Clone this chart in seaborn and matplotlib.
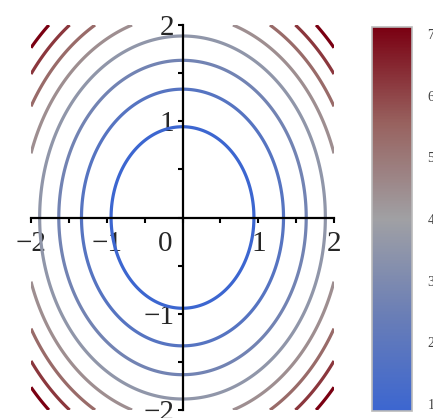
import numpy as np
import seaborn as sns
import matplotlib.pyplot as plt
import matplotlib.transforms as mtransforms
from matplotlib.colors import LinearSegmentedColormap, Normalize
from matplotlib.cm import ScalarMappable

# contour levels (8 levels between min 0 and max 8)
levels = [0.889, 1.778, 2.667, 3.556, 4.444, 5.333, 6.222, 7.111]
x_ticks = [-2, -1, 0, 1, 2]
x_labels = ["\u22122", "\u22121", "0", "1", "2"]
y_ticks = [-2, -1, 0, 1, 2]
y_labels = ["\u22122", "\u22121", "", "1", "2"]
cbar_ticks = [1, 2, 3, 4, 5, 6, 7]
cmap_colors = ["#3c66d0", "#6a7eb6", "#a0a0a4", "#98625f", "#7a0012"]

sns.set_style("white")
plt.rcParams["font.family"] = ["Liberation Serif", "DejaVu Serif"]

# surface z = x^2 + y^2 on [-2, 2] x [-2, 2]
xs = np.linspace(-2, 2, 401)
ys = np.linspace(-2, 2, 401)
X, Y = np.meshgrid(xs, ys)
Z = X**2 + Y**2

cmap = LinearSegmentedColormap.from_list("maple_cw", cmap_colors)
norm = Normalize(vmin=levels[0], vmax=levels[-1])

fig = plt.figure(figsize=(4.33, 4.18), dpi=100)
ax = fig.add_axes([31 / 433, 8 / 418, 303 / 433, 385 / 418])
ax.contour(X, Y, Z, levels=levels, cmap=cmap, norm=norm, linewidths=2.3)
ax.set_xlim(-2, 2)
ax.set_ylim(-2, 2)

for s in ["top", "right"]:
    ax.spines[s].set_visible(False)
for s in ["left", "bottom"]:
    ax.spines[s].set_position(("data", 0))
    ax.spines[s].set_linewidth(1.6)
    ax.spines[s].set_color("black")

ax.set_xticks(x_ticks)
ax.set_xticklabels(x_labels)
ax.set_yticks(y_ticks)
ax.set_yticklabels(y_labels)
ax.set_xticks([-1.5, -0.5, 0.5, 1.5], minor=True)
ax.set_yticks([-1.5, -0.5, 0.5, 1.5], minor=True)
ax.tick_params(which="both", bottom=True, left=True, direction="out", length=3.5,
               width=1.5, color="black", labelsize=21)
ax.tick_params(axis="x", pad=6)
ax.tick_params(axis="y", pad=2.5)

# move the "0" label left of the vertical axis
for lab in ax.get_xticklabels():
    if lab.get_text() == "0":
        lab.set_transform(lab.get_transform() +
                          mtransforms.ScaledTranslation(-17 / 100, 0, fig.dpi_scale_trans))

cax = fig.add_axes([372 / 433, 7 / 418, 40 / 433, 384 / 418])
sm = ScalarMappable(norm=norm, cmap=cmap)
cb = fig.colorbar(sm, cax=cax, ticks=cbar_ticks)
cb.outline.set_edgecolor("#bbbbbb")
cb.outline.set_linewidth(1.2)
cb.ax.tick_params(length=0, labelsize=10, pad=11, labelcolor="#444444")

fig.savefig("out.png", dpi=100)
